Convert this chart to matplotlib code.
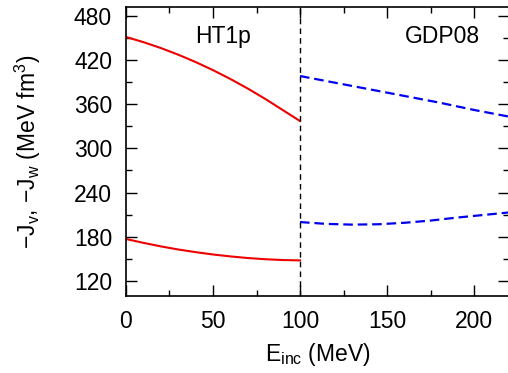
import matplotlib
matplotlib.use("Agg")
import matplotlib.pyplot as plt
from matplotlib.ticker import MultipleLocator

plt.rcParams['font.family'] = ['Liberation Sans', 'DejaVu Sans']
plt.rcParams['mathtext.fontset'] = 'custom'
plt.rcParams['mathtext.rm'] = 'Liberation Sans'
plt.rcParams['mathtext.it'] = 'Liberation Sans'

# HT1p (E < 100 MeV)
e_ht = [0, 10, 20, 30, 40, 50, 60, 70, 80, 90, 100]
jv_ht = [451, 444, 436, 427, 417, 406, 394, 381, 367, 352, 337]
jw_ht = [177, 171.8, 167.0, 162.8, 159.2, 156.0, 153.4, 151.2, 149.6, 148.5, 148.0]

# GDP08 (E > 100 MeV)
e_gdp_v = [100, 120, 140, 160, 180, 200, 220]
jv_gdp = [398, 389, 380, 371, 362, 352, 343]
e_gdp_w = [100, 115, 130, 145, 160, 175, 190, 205, 220]
jw_gdp = [200, 197.5, 196.5, 197, 199, 202, 206, 209.5, 213]

xticks = [0, 50, 100, 150, 200]
yticks = [120, 180, 240, 300, 360, 420, 480]

FS = 16.5

fig = plt.figure(figsize=(5.08, 3.73), dpi=100)
ax = fig.add_axes([0.248, 0.207, 1.0017 - 0.248, 0.980 - 0.207])

ax.plot(e_ht, jv_ht, color='#ee0000', lw=1.5)
ax.plot(e_ht, jw_ht, color='#ee0000', lw=1.5)
ax.plot(e_gdp_v, jv_gdp, color='#0000ee', lw=1.6, dashes=(4.3, 2.2))
ax.plot(e_gdp_w, jw_gdp, color='#0000ee', lw=1.6, dashes=(4.3, 2.2))
ax.axvline(100, color='black', lw=1.0, dashes=(4, 3))

ax.set_xlim(0, 220)
ax.set_ylim(100, 491)
ax.set_xticks(xticks)
ax.set_yticks(yticks)
ax.xaxis.set_minor_locator(MultipleLocator(25))
ax.yaxis.set_minor_locator(MultipleLocator(30))
ax.tick_params(which='both', direction='in', top=True, right=True, labelsize=FS, width=1.0)
ax.tick_params(which='major', length=8, pad=10)
ax.tick_params(which='minor', length=4.5)
for s in ax.spines.values():
    s.set_linewidth(1.2)

ax.text(56, 452, 'HT1p', fontsize=FS, ha='center', va='center')
ax.text(182, 452, 'GDP08', fontsize=FS, ha='center', va='center')

ax.set_xlabel(r'E$_{\rm inc}$ (MeV)', fontsize=FS, labelpad=6)
ax.set_ylabel(r'$-$J$_{\rm v}$, $-$J$_{\rm w}$ (MeV fm$^3$)', fontsize=FS, labelpad=22)

fig.savefig('out.png', dpi=100)
